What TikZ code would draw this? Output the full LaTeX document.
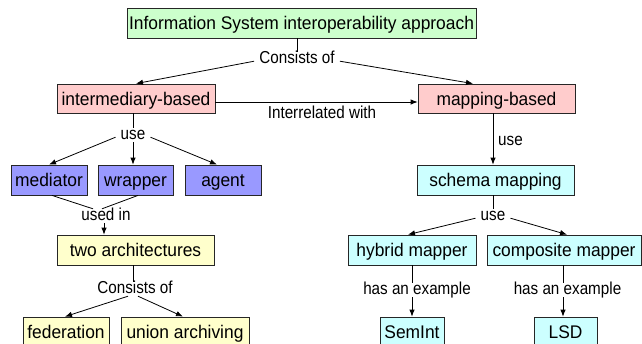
\documentclass[tikz,border=0pt]{standalone}
\usepackage{fontspec}
\setmainfont{Liberation Sans}
\newfontfamily\conceptfont[FakeStretch=0.95]{Liberation Sans}
\newfontfamily\linkfont[FakeStretch=0.88]{Liberation Sans}
\usetikzlibrary{arrows.meta}
\definecolor{boxgreen}{HTML}{CCFFCC}
\definecolor{boxpink}{HTML}{FFCCCC}
\definecolor{boxviolet}{HTML}{9999FF}
\definecolor{boxyellow}{HTML}{FFFFCC}
\definecolor{boxcyan}{HTML}{CCFFFF}
\begin{document}
\begin{tikzpicture}[x=1pt,y=-1pt,
  concept/.style={draw=black!85, line width=0.8pt, inner sep=0pt,
    text height=13.5pt, text depth=0pt,
    minimum height=30pt, font=\conceptfont\fontsize{18.3}{21}\selectfont},
  linkphrase/.style={inner xsep=5pt, inner ysep=0pt, text height=11pt,
    text depth=3pt, font=\linkfont\fontsize{17.3}{20}\selectfont},
  conn/.style={line width=0.8pt, draw=black},
  arr/.style={conn, -{Latex[length=7pt,width=5.5pt]}}]
\useasboundingbox (0,0) rectangle (642,343);

% concepts
\node[concept, fill=boxgreen, minimum width=349pt] (title) at (301.5,23) {Information System interoperability approach};
\node[concept, fill=boxpink, minimum width=158pt, minimum height=29pt] (inter) at (136,98.5) {intermediary-based};
\node[concept, fill=boxpink, minimum width=157pt, minimum height=29pt] (mapb) at (496.5,98.5) {mapping-based};
\node[concept, fill=boxviolet, minimum width=76pt] (mediator) at (49,180) {mediator};
\node[concept, fill=boxviolet, minimum width=75pt] (wrapper) at (135.5,180) {wrapper};
\node[concept, fill=boxviolet, minimum width=76pt] (agent) at (223,180) {agent};
\node[concept, fill=boxyellow, minimum width=157pt] (twoarch) at (135.5,250) {two architectures};
\node[concept, fill=boxyellow, minimum width=86pt] (federation) at (66,332) {federation};
\node[concept, fill=boxyellow, minimum width=128pt] (union) at (185,332) {union archiving};
\node[concept, fill=boxcyan, minimum width=157pt] (schema) at (495.5,180) {schema mapping};
\node[concept, fill=boxcyan, minimum width=128pt] (hybrid) at (412,250) {hybrid mapper};
\node[concept, fill=boxcyan, minimum width=154pt] (composite) at (564,250) {composite mapper};
\node[concept, fill=boxcyan, minimum width=64pt] (semint) at (412,332) {SemInt};
\node[concept, fill=boxcyan, minimum width=63pt] (lsd) at (565.5,332) {LSD};

% linking phrases
\node[linkphrase] (cons1) at (297,59) {Consists of};
\node[linkphrase] (interrel) at (322,114) {Interrelated with};
\node[linkphrase] (use1) at (133,135) {use};
\node[linkphrase] (usedin) at (106,216) {used in};
\node[linkphrase] (cons2) at (135,289) {Consists of};
\node[linkphrase] (use2) at (510.5,141) {use};
\node[linkphrase] (use3) at (493,216) {use};
\node[linkphrase] (hasex1) at (417,290) {has an example};
\node[linkphrase] (hasex2) at (567.5,290) {has an example};

% top level
\draw[conn] (title.south -| cons1.north) -- (cons1.north);
\draw[arr] ([yshift=5pt]cons1.south west) -- (inter.north);
\draw[arr] ([yshift=5pt]cons1.south east) -- ([xshift=-23.5pt]mapb.north);
\draw[arr] ([yshift=-3.5pt]inter.east) -- ([yshift=-3.5pt]mapb.west);

% intermediary branch
\draw[conn] (inter.south -| use1.north) -- (use1.north);
\draw[arr] ([yshift=5pt]use1.south west) -- (mediator.north);
\draw[arr] (use1.south) -- (use1.south |- wrapper.north);
\draw[arr] ([yshift=5pt]use1.south east) -- ([xshift=-6pt]agent.north);
\draw[conn] ([xshift=3pt]mediator.south) -- ([xshift=-13pt]usedin.north);
\draw[conn] ([xshift=2.5pt]wrapper.south) -- ([xshift=-4pt]usedin.north);
\draw[arr] ([xshift=-2pt]usedin.south) -- ([xshift=-2pt]usedin.south |- twoarch.north);
\draw[conn] ([xshift=-2.5pt]twoarch.south) -- ([xshift=-2pt]cons2.north);
\draw[arr] ([xshift=-7pt]cons2.south) -- ([xshift=-1pt]federation.north);
\draw[arr] ([xshift=3pt]cons2.south) -- ([xshift=-2pt]union.north);

% mapping branch
\draw[arr] ([xshift=-3.5pt]mapb.south) -- ([xshift=-2.5pt]schema.north);
\draw[conn] (schema.south -| use3.north) -- (use3.north);
\draw[arr] ([yshift=5pt]use3.south west) -- ([xshift=-4pt]hybrid.north);
\draw[arr] ([yshift=5pt]use3.south east) -- ([xshift=3pt]composite.north);
\draw[conn] (hybrid.south) -- (hybrid.south |- hasex1.north);
\draw[arr] (hybrid.south |- hasex1.south) -- (semint.north);
\draw[conn] ([xshift=-1pt]composite.south) -- ([xshift=-1pt]composite.south |- hasex2.north);
\draw[arr] ([xshift=-1pt]composite.south |- hasex2.south) -- ([xshift=-1pt]composite.south |- lsd.north);
\end{tikzpicture}
\end{document}
